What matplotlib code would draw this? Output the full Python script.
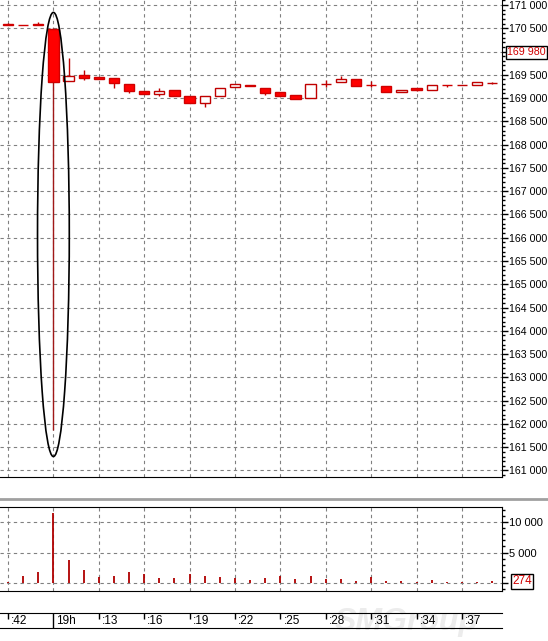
import matplotlib
matplotlib.use("Agg")
import matplotlib.pyplot as plt
from matplotlib.patches import Ellipse
from matplotlib.ticker import MultipleLocator, FuncFormatter
import matplotlib.transforms as mtransforms

opens = [170600, 170570, 170590, 170480, 169360, 169490, 169455, 169430, 169300, 169150,
         169085, 169175, 169055, 168905, 169035, 169235, 169280, 169220, 169120, 169070,
         169010, 169295, 169340, 169405, 169285, 169270, 169125, 169210, 169165, 169285,
         169280, 169275, 169320]
closes = [170580, 170565, 170580, 169355, 169480, 169430, 169405, 169320, 169150, 169085,
          169150, 169055, 168890, 169035, 169220, 169300, 169255, 169110, 169050, 168985,
          169300, 169300, 169410, 169270, 169280, 169140, 169175, 169165, 169275, 169280,
          169285, 169340, 169325]
highs = [170610, 170580, 170640, 170500, 169860, 169600, 169460, 169430, 169300, 169155,
         169210, 169175, 169055, 169035, 169220, 169300, 169280, 169220, 169120, 169070,
         169300, 169390, 169485, 169405, 169370, 169270, 169175, 169210, 169275, 169285,
         169285, 169340, 169345]
lows = [170575, 170560, 170575, 161880, 169360, 169390, 169400, 169210, 169100, 169080,
        169050, 169055, 168890, 168805, 169035, 169235, 169250, 169060, 169050, 168985,
        169010, 169235, 169340, 169270, 169235, 169140, 169125, 169160, 169165, 169240,
        169280, 169275, 169300]
volumes = [150, 1200, 1790, 11400, 3700, 2170, 980, 1090, 1740, 1520,
           760, 760, 1470, 1090, 920, 820, 440, 760, 1090, 710,
           1090, 710, 710, 270, 980, 380, 270, 200, 540, 100,
           100, 150, 274]
time_labels = [":42", "19h", ":13", ":16", ":19", ":22", ":25", ":28", ":31", ":34", ":37"]
last_price = 169980
last_volume = 274

W, H = 548, 641
fig = plt.figure(figsize=(W / 100, H / 100), dpi=100)
plt.rcParams["font.family"] = ["Liberation Sans", "DejaVu Sans"]
FS = 7.7


def box(left, top, right, bottom):
    return [left / W, 1 - bottom / H, (right - left) / W, (bottom - top) / H]


def fmt(v, pos):
    return f"{int(round(v)):,}".replace(",", " ")


x = list(range(len(opens)))
xlim = (-0.53, 32.65)
grid_kw = dict(color="#808080", linewidth=0.8, linestyle=(0, (3, 3)))

# price panel
ax = fig.add_axes(box(0, 0, 502, 477))
ax.set_xlim(*xlim)
ax.set_ylim(160860, 171107)
for i in x:
    o, c, h, l = opens[i], closes[i], highs[i], lows[i]
    wick = "#a01818" if i == 3 else "#c00000"
    ax.vlines(i, l, h, color=wick, linewidth=1, zorder=2)
    if c < o:
        ax.bar(i, o - c, bottom=c, width=0.68, color="#ff0000", edgecolor="#d00000",
               linewidth=1, zorder=3)
    else:
        ax.bar(i, max(c - o, 5), bottom=o, width=0.68, color="white", edgecolor="#c00000",
               linewidth=1, zorder=3)
ax.add_patch(Ellipse((3, 166070), 2.1, 9540, fill=False, edgecolor="black", linewidth=1.2, zorder=4))
ax.yaxis.tick_right()
ax.yaxis.set_major_locator(MultipleLocator(500))
ax.yaxis.set_minor_locator(MultipleLocator(100))
ax.yaxis.set_major_formatter(FuncFormatter(lambda v, p: "" if abs(v - 170000) < 1 else fmt(v, p)))
ax.tick_params(axis="y", which="major", length=4, pad=1, labelsize=FS, width=1)
ax.tick_params(axis="y", which="minor", length=2.5, width=1)
ax.set_xticks(range(0, 33, 3))
ax.tick_params(axis="x", length=0, labelbottom=False)
ax.grid(True, axis="both", which="major", **grid_kw)
ax.set_axisbelow(True)
for s in ["left", "top"]:
    ax.spines[s].set_visible(False)
trans = mtransforms.blended_transform_factory(ax.transAxes, ax.transData)
ax.text(1.01, last_price, fmt(last_price, None), transform=trans, color="#d00000", fontsize=FS,
        va="center", ha="left",
        bbox=dict(boxstyle="square,pad=0.1", facecolor="white", edgecolor="black", linewidth=1))

# separator
fig.add_artist(plt.Line2D([0, 1], [1 - 499 / H, 1 - 499 / H], color="#a0a0a0", linewidth=2))

# volume panel
ax2 = fig.add_axes(box(0, 507, 502, 591))
ax2.set_xlim(*xlim)
ax2.set_ylim(-1311, 12459)
ax2.vlines(x, 0, volumes, color="#b00000", linewidth=1.3, zorder=3)
ax2.yaxis.tick_right()
ax2.set_yticks([0, 5000, 10000])
ax2.yaxis.set_minor_locator(MultipleLocator(1000))
ax2.yaxis.set_major_formatter(FuncFormatter(lambda v, p: "" if v == 0 else fmt(v, p)))
ax2.tick_params(axis="y", which="major", length=4, pad=1, labelsize=FS + 0.3, width=1)
ax2.tick_params(axis="y", which="minor", length=2.5, width=1)
ax2.set_xticks(range(0, 33, 3))
ax2.tick_params(axis="x", length=0, labelbottom=False)
ax2.grid(True, which="major", **grid_kw)
ax2.set_axisbelow(True)
ax2.spines["left"].set_visible(False)
trans2 = mtransforms.blended_transform_factory(ax2.transAxes, ax2.transData)
ax2.text(1.02, last_volume, str(last_volume), transform=trans2, color="#d00000", fontsize=FS + 0.8,
         va="center", ha="left",
         bbox=dict(boxstyle="square,pad=0.1", facecolor="white", edgecolor="black", linewidth=1))

# watermark
fig.text(335 / W, 1 - 622 / H, "SMGroup", fontsize=23, fontweight="bold", style="italic",
         color="#ececec", va="center", ha="left", zorder=-1)

# time axis
ax3 = fig.add_axes(box(0, 613, 502, 628))
ax3.set_facecolor("none")
ax3.set_xlim(*xlim)
ax3.set_ylim(0, 1)
ax3.set_xticks([])
ax3.set_yticks([])
for s in ["left", "right"]:
    ax3.spines[s].set_visible(False)
for k, lab in enumerate(time_labels):
    pos = k * 3
    if lab == "19h":
        ax3.vlines(pos, 0, 1, color="black", linewidth=1)
    else:
        ax3.vlines(pos, 0.6, 1, color="black", linewidth=1)
    ax3.text(pos + 0.2, 0.45, lab, fontsize=FS + 0.8, va="center", ha="left")

plt.savefig("out.png", dpi=100)
